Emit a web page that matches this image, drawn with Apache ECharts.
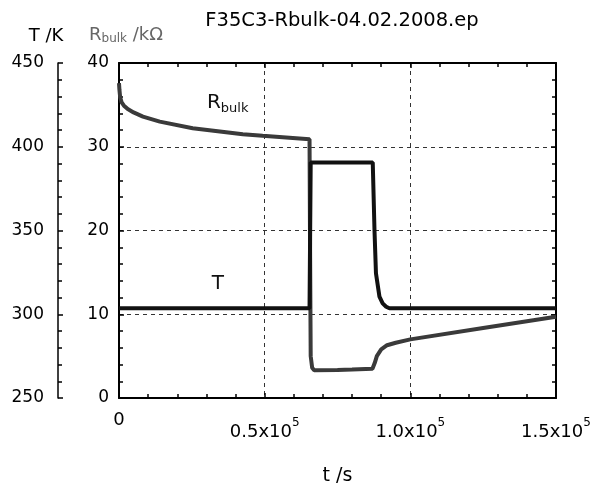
<!DOCTYPE html>
<html>
<head>
<meta charset="utf-8">
<script src="https://cdn.jsdelivr.net/npm/echarts@6/dist/echarts.min.js"></script>
<style>
  html, body { margin: 0; padding: 0; background: #fff; }
  #main { width: 595px; height: 491px; }
</style>
</head>
<body>
<div id="main"></div>
<script>
// R_bulk (kOhm) vs time (s)
var tR = [0, 150, 400, 900, 1700, 3000, 5000, 8220, 14000, 25300, 42500, 49300, 65400, 65550, 65800, 66300, 67000, 75000, 80000, 87000, 87800, 88500, 90000, 92000, 95000, 100000, 125000, 150000];
var vR = [37.6, 36.8, 35.9, 35.3, 34.9, 34.5, 34.1, 33.6, 33.0, 32.2, 31.5, 31.3, 30.9, 20.0, 5.0, 3.6, 3.3, 3.35, 3.4, 3.5, 4.2, 5.0, 5.8, 6.3, 6.6, 7.0, 8.35, 9.7];

// temperature (K) vs time (s)
var tT = [0, 65400, 65800, 87100, 87700, 88200, 89400, 90500, 91700, 92800, 150000];
var vT = [303.6, 303.6, 390.6, 390.6, 350, 324.5, 310.5, 306.5, 304.5, 303.6, 303.6];

var xTicks = {0: '0', 50000: '0.5x10', 100000: '1.0x10', 150000: '1.5x10'};

function pairs(xs, ys) {
  return xs.map(function (x, i) { return [x, ys[i]]; });
}

var frameLine = { show: true, onZero: false, lineStyle: { color: '#000', width: 2 } };
var tickIn = { show: true, inside: true, length: 5, lineStyle: { color: '#000', width: 1.5 } };
var minorIn = { show: true, splitNumber: 5, length: 4, lineStyle: { color: '#000', width: 1.5 } };
var dashed = { show: true, lineStyle: { color: '#333', width: 1, type: [4, 4] } };
var font = 'DejaVu Sans, Liberation Sans, sans-serif';

var chart = echarts.init(document.getElementById('main'));
chart.setOption({
  animation: false,
  textStyle: { fontFamily: font },
  title: {
    text: 'F35C3-Rbulk-04.02.2008.ep',
    left: 337, top: 6, textAlign: 'center',
    textStyle: { fontSize: 19.5, fontWeight: 'normal', color: '#000', fontFamily: font }
  },
  grid: { left: 119, right: 39, top: 63, bottom: 93 },
  xAxis: [{
    type: 'value', min: 0, max: 150000, interval: 50000, position: 'bottom',
    axisLine: frameLine, axisTick: tickIn, minorTick: minorIn, splitLine: dashed,
    name: 't /s', nameLocation: 'middle', nameGap: 69,
    nameTextStyle: { fontSize: 19, color: '#000', fontFamily: font },
    axisLabel: {
      margin: 13,
      formatter: function (v) {
        if (v === 0) return '{z|0}';
        return '{n|' + xTicks[v] + '}{s|5}';
      },
      rich: {
        z: { fontSize: 18, color: '#000', fontFamily: font },
        n: { fontSize: 18, color: '#000', fontFamily: font, padding: [12, 0, 0, 0] },
        s: { fontSize: 12, color: '#000', fontFamily: font, padding: [0, 0, 6, 0] }
      }
    }
  }, {
    type: 'value', min: 0, max: 150000, interval: 50000, position: 'top',
    axisLine: frameLine, axisTick: tickIn, minorTick: minorIn,
    splitLine: { show: false }, axisLabel: { show: false }
  }],
  yAxis: [{
    type: 'value', min: 0, max: 40, interval: 10, position: 'left',
    axisLine: frameLine, axisTick: tickIn, minorTick: minorIn, splitLine: dashed,
    axisLabel: { fontSize: 17, color: '#000', margin: 10, fontFamily: font },
    name: '{r|R}{b|bulk}{u| /kΩ}', nameLocation: 'end', nameGap: 18,
    nameTextStyle: {
      align: 'center', padding: [0, 0, 0, 14],
      rich: {
        r: { fontSize: 18, color: '#666', fontFamily: font },
        b: { fontSize: 12, color: '#666', fontFamily: font, padding: [8, 0, 0, 0] },
        u: { fontSize: 18, color: '#666', fontFamily: font }
      }
    }
  }, {
    type: 'value', min: 250, max: 450, interval: 50, position: 'left', offset: 61,
    axisLine: { show: true, onZero: false, lineStyle: { color: '#000', width: 1.5 } },
    axisTick: tickIn, minorTick: minorIn, splitLine: { show: false },
    axisLabel: { fontSize: 17, color: '#000', margin: 14, fontFamily: font },
    name: 'T /K', nameLocation: 'end', nameGap: 18,
    nameTextStyle: { align: 'center', fontSize: 18, color: '#000', fontFamily: font, padding: [0, 24, 0, 0] }
  }, {
    type: 'value', min: 0, max: 40, interval: 10, position: 'right',
    axisLine: frameLine, axisTick: tickIn, minorTick: minorIn,
    splitLine: { show: false }, axisLabel: { show: false }
  }],
  series: [{
    name: 'Rbulk', type: 'line', xAxisIndex: 0, yAxisIndex: 0,
    data: pairs(tR, vR), showSymbol: false, symbol: 'none',
    lineStyle: { color: '#3a3a3a', width: 4 },
    markPoint: {
      symbol: 'circle', symbolSize: 0, silent: true,
      data: [{ coord: [37300, 35.2] }],
      label: {
        show: true, position: 'inside',
        formatter: '{r|R}{b|bulk}',
        rich: {
          r: { fontSize: 20, color: '#111', fontFamily: font },
          b: { fontSize: 13, color: '#111', fontFamily: font, padding: [10, 0, 0, 0] }
        }
      }
    }
  }, {
    name: 'T', type: 'line', xAxisIndex: 0, yAxisIndex: 1,
    data: pairs(tT, vT), showSymbol: false, symbol: 'none',
    lineStyle: { color: '#111', width: 4 },
    markPoint: {
      symbol: 'circle', symbolSize: 0, silent: true,
      data: [{ coord: [33900, 318] }],
      label: { show: true, position: 'inside', formatter: 'T', fontSize: 20, color: '#111', fontFamily: font }
    }
  }]
});
</script>
</body>
</html>
